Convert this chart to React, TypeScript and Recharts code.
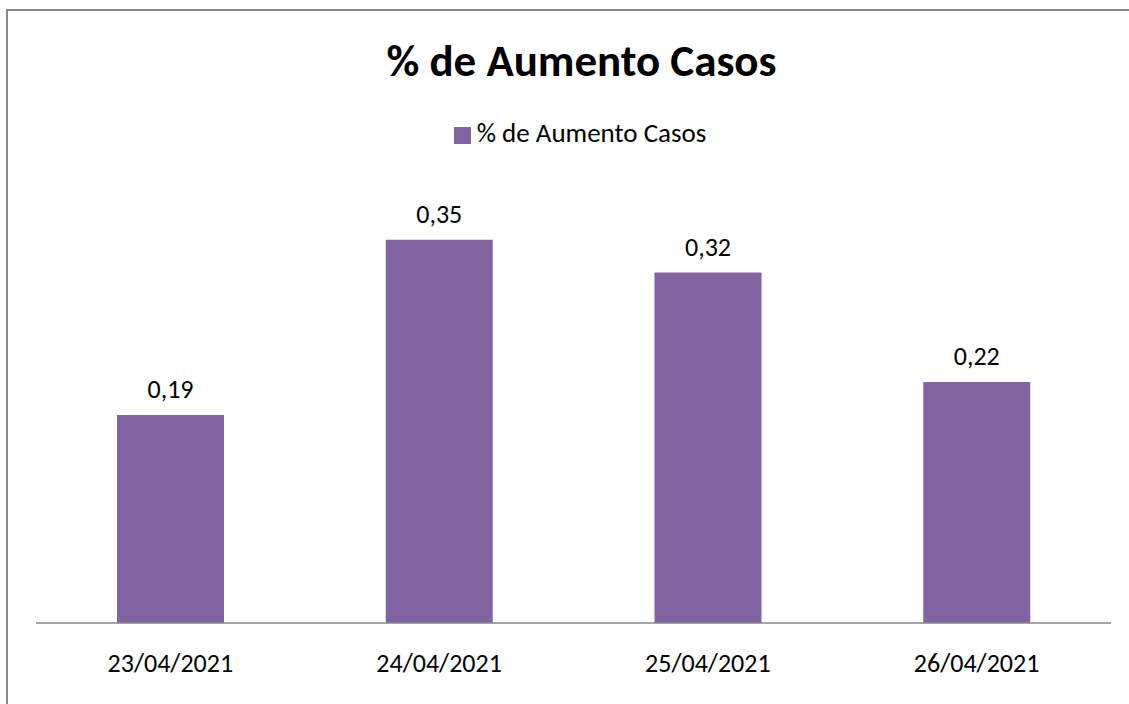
import { BarChart, Bar, XAxis, YAxis, Legend, LabelList } from "recharts";

const categories = ["23/04/2021", "24/04/2021", "25/04/2021", "26/04/2021"];
const increase = [0.19, 0.35, 0.32, 0.22];
const seriesName = "% de Aumento Casos";

const data = categories.map((day, i) => ({ day, value: increase[i] }));

const FONT = "Carlito, Calibri, 'Open Sans', sans-serif";

export default function App() {
  return (
    <div style={{ position: "fixed", inset: 0, overflow: "hidden", background: "#fff", fontFamily: FONT }}>
      {/* chart frame, only top and left edges are inside the picture */}
      <div
        style={{
          position: "absolute",
          left: 6,
          top: 9,
          width: 1300,
          height: 900,
          border: "2px solid #888888",
        }}
      />
      <div
        style={{
          position: "absolute",
          left: 0,
          width: 1163,
          top: 33,
          textAlign: "center",
          fontSize: 45,
          fontWeight: 700,
          color: "#000",
        }}
      >
        {seriesName}
      </div>
      <div style={{ position: "absolute", left: 0, top: 0 }}>
        <BarChart
          width={1129}
          height={704}
          data={data}
          margin={{ top: 185, right: 18, left: 36, bottom: 21 }}
          barCategoryGap="20%"
        >
          <Legend
            verticalAlign="middle"
            iconType="square"
            iconSize={17}
            wrapperStyle={{ top: 116, left: 0, width: 1170, fontSize: 27 }}
            formatter={(v: string) => <span style={{ color: "#000", marginLeft: 2 }}>{v}</span>}
          />
          <XAxis
            dataKey="day"
            axisLine={{ stroke: "#868686", strokeWidth: 1.5 }}
            tickLine={false}
            tickMargin={25}
            height={60}
            tick={{ fontSize: 26, fill: "#000" }}
          />
          <YAxis hide domain={[0, 0.4]} />
          <Bar dataKey="value" name={seriesName} fill="#8064A2" barSize={107} isAnimationActive={false}>
            <LabelList
              dataKey="value"
              position="top"
              offset={17}
              fill="#000"
              fontSize={26}
              formatter={(v: number) => v.toFixed(2).replace(".", ",")}
            />
          </Bar>
        </BarChart>
      </div>
    </div>
  );
}
